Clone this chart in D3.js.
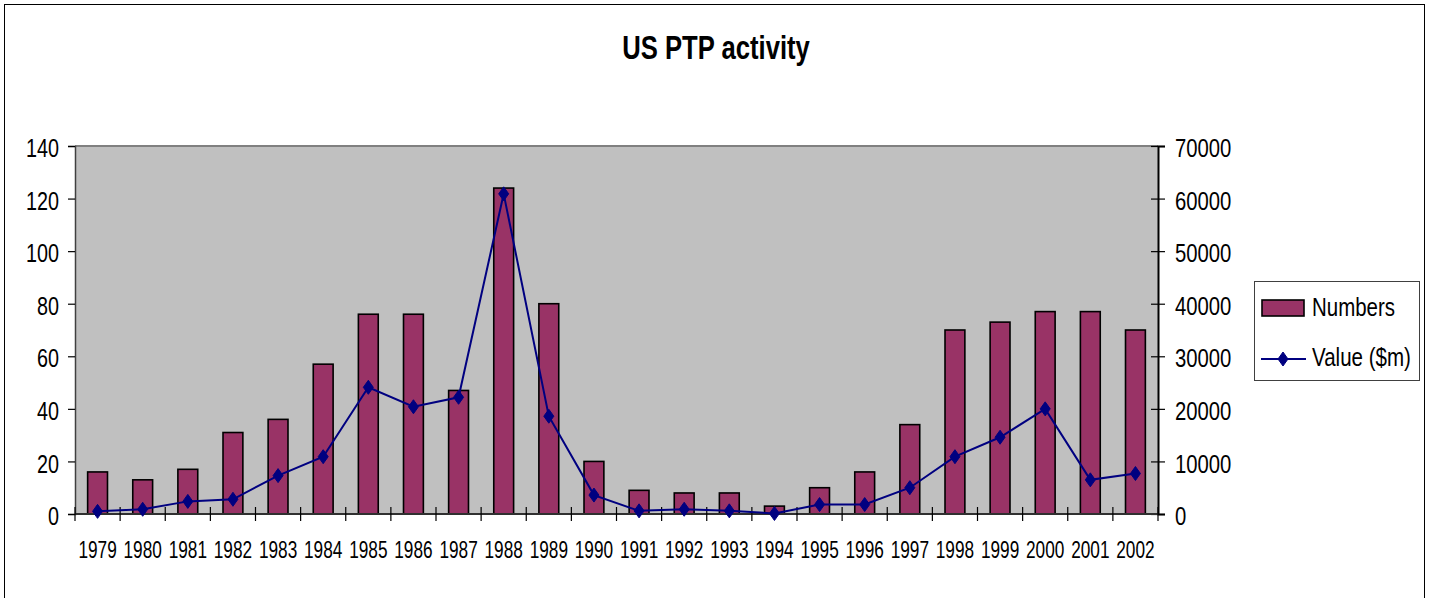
<!DOCTYPE html>
<html>
<head>
<meta charset="utf-8">
<script src="https://cdn.jsdelivr.net/npm/d3@7"></script>
<style>
  html, body { margin: 0; padding: 0; background: #fff; }
  svg { display: block; }
  text { font-family: "Liberation Sans", Arial, sans-serif; fill: #000; }
</style>
</head>
<body>
<svg id="chart" width="1429" height="598"></svg>
<script>
// ---- data ----
const years = ["1979","1980","1981","1982","1983","1984","1985","1986","1987","1988","1989","1990",
               "1991","1992","1993","1994","1995","1996","1997","1998","1999","2000","2001","2002"];
const numbers = [16,13,17,31,36,57,76,76,47,124,80,20,9,8,8,3,10,16,34,70,73,77,77,70];
const values  = [500,900,2400,2800,7300,10900,24100,20400,22200,60900,18600,3600,
                 600,900,600,100,1800,1800,5000,10900,14600,20000,6500,7700];
const leftTicks  = [0,20,40,60,80,100,120,140];
const rightTicks = [0,10000,20000,30000,40000,50000,60000,70000];
const titleText = "US PTP activity";
const seriesNames = ["Numbers", "Value ($m)"];

// ---- layout ----
const plot = { left: 75, right: 1158, top: 146, bottom: 514 };
const barColor = "#993366", lineColor = "#000080", plotBg = "#C0C0C0";

const svg = d3.select("#chart");

// condensed text helper: moves x/y into a transform with horizontal squeeze
function squeeze(sel, sx) {
  sel.each(function () {
    const t = d3.select(this);
    const tx = +t.attr("x") || 0, ty = +t.attr("y") || 0;
    t.attr("x", 0).attr("y", 0)
     .attr("transform", `translate(${tx},${ty}) scale(${sx},1)`);
  });
}

// outer frame
svg.append("rect").attr("x", 4.5).attr("y", 4.5).attr("width", 1420).attr("height", 620)
  .attr("fill", "#fff").attr("stroke", "#000").attr("stroke-width", 1);

// scales
const x = d3.scaleBand().domain(years).range([plot.left, plot.right])
  .paddingInner(0.56).paddingOuter(0.28);
const xb = d3.scaleLinear().domain([0, years.length]).range([plot.left, plot.right]);
const yL = d3.scaleLinear().domain([0, 140]).range([plot.bottom, plot.top]);
const yR = d3.scaleLinear().domain([0, 70000]).range([plot.bottom, plot.top]);

// plot background
svg.append("rect").attr("x", plot.left).attr("y", plot.top)
  .attr("width", plot.right - plot.left).attr("height", plot.bottom - plot.top)
  .attr("fill", plotBg);
svg.append("line").attr("x1", plot.left).attr("x2", plot.right)
  .attr("y1", plot.top).attr("y2", plot.top)
  .attr("stroke", "#808080").attr("stroke-width", 2);

// title
svg.append("text").attr("x", 716).attr("y", 59).attr("text-anchor", "middle")
  .attr("font-size", 33).attr("font-weight", "bold")
  .text(titleText).call(squeeze, 0.777);

// bars
svg.append("g").selectAll("rect").data(numbers).join("rect")
  .attr("x", (d, i) => x(years[i]))
  .attr("y", d => yL(d))
  .attr("width", x.bandwidth())
  .attr("height", d => yL(0) - yL(d))
  .attr("fill", barColor)
  .attr("stroke", "#000").attr("stroke-width", 1.6);

// left axis
const gL = svg.append("g").attr("transform", `translate(${plot.left},0)`)
  .call(d3.axisLeft(yL).tickValues(leftTicks).tickSize(7).tickPadding(9));
gL.select(".domain").attr("stroke", "#404040").attr("stroke-width", 1.5);
gL.selectAll(".tick line").attr("stroke", "#000").attr("stroke-width", 1.2);
gL.selectAll(".tick text").attr("font-size", 26).attr("dy", "0.41em").call(squeeze, 0.76);

// right axis
const gR = svg.append("g").attr("transform", `translate(${plot.right},0)`)
  .call(d3.axisRight(yR).tickValues(rightTicks).tickFormat(d3.format("d")).tickSize(7).tickPadding(10));
gR.select(".domain").attr("stroke", "#000").attr("stroke-width", 2);
gR.selectAll(".tick line").attr("x1", -7).attr("x2", 7).attr("stroke", "#000").attr("stroke-width", 1.2);
gR.selectAll(".tick text").attr("font-size", 26).attr("dy", "0.41em").call(squeeze, 0.78);

// bottom axis labels
const gB = svg.append("g").attr("transform", `translate(0,${plot.bottom})`)
  .call(d3.axisBottom(x).tickSize(0).tickPadding(0));
gB.select(".domain").remove();
gB.selectAll(".tick text").attr("font-size", 23).attr("y", 44).attr("dy", null).call(squeeze, 0.75);
// bottom axis line and category-boundary ticks
svg.append("line").attr("x1", plot.left).attr("x2", plot.right)
  .attr("y1", plot.bottom).attr("y2", plot.bottom)
  .attr("stroke", "#303030").attr("stroke-width", 2);
svg.append("g").selectAll("line").data(d3.range(years.length + 1)).join("line")
  .attr("x1", d => xb(d)).attr("x2", d => xb(d))
  .attr("y1", plot.bottom - 7).attr("y2", plot.bottom + 7)
  .attr("stroke", "#000").attr("stroke-width", 1.2);

// line series
const diamond = "M0,-7L5,0L0,7L-5,0Z";
const cx = (i) => x(years[i]) + x.bandwidth() / 2;
svg.append("path").datum(values)
  .attr("d", d3.line().x((d, i) => cx(i)).y(d => yR(d)))
  .attr("fill", "none").attr("stroke", lineColor).attr("stroke-width", 2);
svg.append("g").selectAll("path").data(values).join("path")
  .attr("d", diamond)
  .attr("transform", (d, i) => `translate(${cx(i)},${yR(d)})`)
  .attr("fill", lineColor).attr("stroke", lineColor).attr("stroke-width", 1);

// legend
const lg = svg.append("g");
lg.append("rect").attr("x", 1254.5).attr("y", 281.5).attr("width", 165).attr("height", 99)
  .attr("fill", "#fff").attr("stroke", "#404040").attr("stroke-width", 1);
lg.append("rect").attr("x", 1262).attr("y", 300).attr("width", 42).attr("height", 16)
  .attr("fill", barColor).attr("stroke", "#000").attr("stroke-width", 1.6);
lg.append("text").attr("x", 1312).attr("y", 315.5).attr("font-size", 26)
  .text(seriesNames[0]).call(squeeze, 0.787);
lg.append("line").attr("x1", 1261).attr("x2", 1306).attr("y1", 359).attr("y2", 359)
  .attr("stroke", lineColor).attr("stroke-width", 2);
lg.append("path").attr("d", diamond).attr("transform", "translate(1283,359)")
  .attr("fill", lineColor).attr("stroke", lineColor);
lg.append("text").attr("x", 1312).attr("y", 365.5).attr("font-size", 26)
  .text(seriesNames[1]).call(squeeze, 0.79);
</script>
</body>
</html>
